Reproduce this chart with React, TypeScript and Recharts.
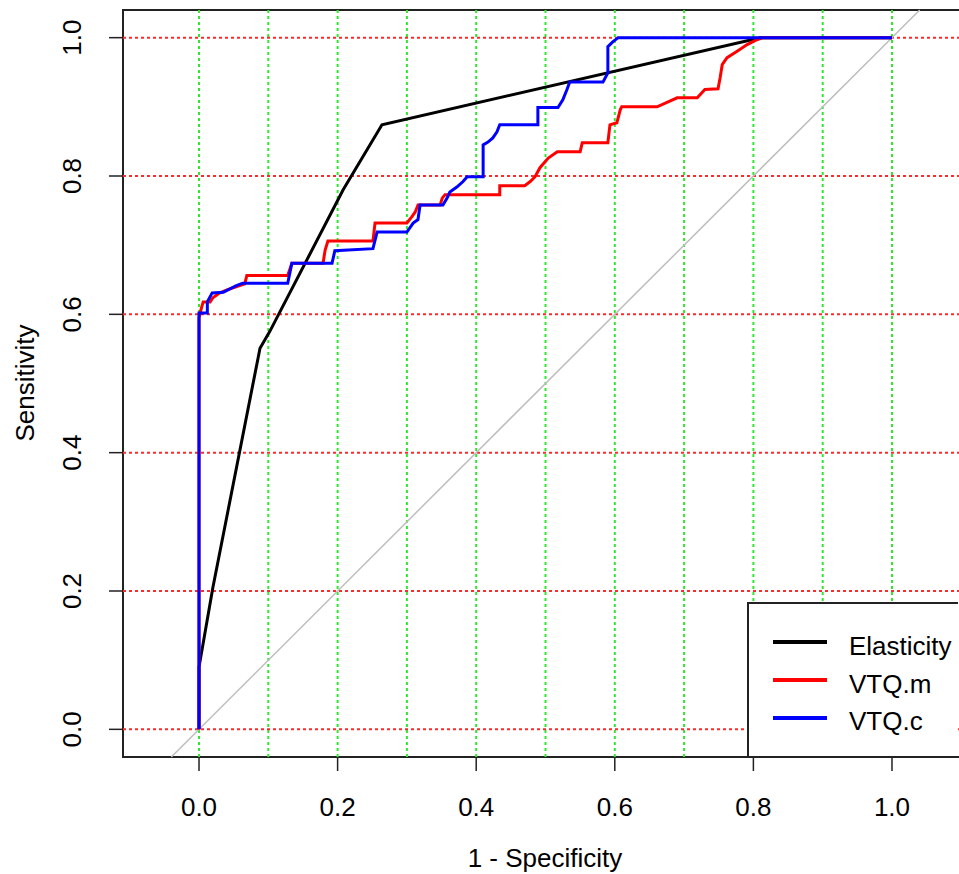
import {
  Line,
  LineChart,
  ReferenceArea,
  ReferenceLine,
  XAxis,
  YAxis,
} from "recharts";

const FONT = "'Liberation Sans', Arial, sans-serif";

const xTicks = [0, 0.2, 0.4, 0.6, 0.8, 1];
const yTicks = [0, 0.2, 0.4, 0.6, 0.8, 1];
const xGrid = [0, 0.1, 0.2, 0.3, 0.4, 0.5, 0.6, 0.7, 0.8, 0.9, 1];
const yGrid = [0, 0.2, 0.4, 0.6, 0.8, 1];
const xDomain = [-0.1097, 1.1097];
const yDomain = [-0.04, 1.04];
const chanceLine = [-0.04, 1.04];

const seriesNames = ["Elasticity", "VTQ.m", "VTQ.c"];
const seriesColors = ["#000000", "#ff0000", "#0000ff"];

// 1 - specificity / sensitivity
const elasticityFpr = [0, 0, 0.02, 0.088, 0.102, 0.208, 0.264, 0.81, 1];
const elasticitySens = [0, 0.09, 0.205, 0.551, 0.575, 0.78, 0.874, 1, 1];

const vtqmFpr = [
  0, 0, 0.004, 0.006, 0.016, 0.02, 0.03, 0.045, 0.066, 0.069, 0.128, 0.134,
  0.179, 0.182, 0.186, 0.251, 0.254, 0.3, 0.307, 0.312, 0.316, 0.348, 0.351,
  0.355, 0.434, 0.434, 0.47, 0.478, 0.485, 0.492, 0.504, 0.517, 0.55, 0.553,
  0.59, 0.593, 0.603, 0.608, 0.61, 0.661, 0.69, 0.719, 0.73, 0.749, 0.752,
  0.755, 0.762, 0.776, 0.791, 0.805, 0.814, 1,
];
const vtqmSens = [
  0, 0.595, 0.611, 0.618, 0.618, 0.624, 0.631, 0.637, 0.644, 0.656, 0.656,
  0.674, 0.674, 0.693, 0.706, 0.706, 0.732, 0.732, 0.741, 0.748, 0.758, 0.758,
  0.768, 0.773, 0.773, 0.786, 0.786, 0.792, 0.799, 0.812, 0.826, 0.835, 0.835,
  0.848, 0.848, 0.874, 0.877, 0.896, 0.9, 0.9, 0.913, 0.913, 0.925, 0.926,
  0.942, 0.961, 0.971, 0.98, 0.99, 0.997, 1, 1,
];

const vtqcFpr = [
  0, 0, 0.012, 0.012, 0.019, 0.035, 0.045, 0.053, 0.063, 0.128, 0.134, 0.192,
  0.196, 0.251, 0.257, 0.3, 0.309, 0.316, 0.319, 0.352, 0.358, 0.362, 0.372,
  0.381, 0.387, 0.41, 0.41, 0.417, 0.424, 0.43, 0.434, 0.489, 0.489, 0.518,
  0.525, 0.531, 0.535, 0.583, 0.59, 0.59, 0.597, 0.605, 1,
];
const vtqcSens = [
  0, 0.602, 0.602, 0.618, 0.631, 0.632, 0.637, 0.641, 0.645, 0.645, 0.674,
  0.674, 0.692, 0.695, 0.719, 0.719, 0.732, 0.737, 0.758, 0.758, 0.768, 0.777,
  0.784, 0.792, 0.799, 0.799, 0.845, 0.849, 0.855, 0.864, 0.874, 0.874, 0.899,
  0.899, 0.91, 0.925, 0.936, 0.936, 0.949, 0.987, 0.994, 1, 1,
];

const toPoints = (xs: number[], ys: number[]) =>
  xs.map((x, i) => ({ x, y: ys[i] }));

const seriesData = [
  toPoints(elasticityFpr, elasticitySens),
  toPoints(vtqmFpr, vtqmSens),
  toPoints(vtqcFpr, vtqcSens),
];

const XTick = (props: any) => (
  <text
    x={props.x}
    y={816}
    textAnchor="middle"
    fontSize={26}
    fontFamily={FONT}
    fill="#000"
  >
    {Number(props.payload.value).toFixed(1)}
  </text>
);

const YTick = (props: any) => (
  <text
    x={81}
    y={props.y}
    transform={`rotate(-90 81 ${props.y})`}
    textAnchor="middle"
    fontSize={26}
    fontFamily={FONT}
    fill="#000"
  >
    {Number(props.payload.value).toFixed(1)}
  </text>
);

function LegendBox() {
  return (
    <svg
      width={211}
      height={156}
      style={{ position: "absolute", left: 747, top: 602, pointerEvents: "none" }}
    >
      <rect x={1} y={1} width={260} height={154} fill="#fff" stroke="#222" strokeWidth={2} />
      {seriesNames.map((name, i) => (
        <g key={name}>
          <line
            x1={26}
            x2={80}
            y1={40 + i * 38}
            y2={40 + i * 38}
            stroke={seriesColors[i]}
            strokeWidth={4}
          />
          <text
            x={102}
            y={53 + i * 37.5}
            fontSize={26}
            fontFamily={FONT}
            fill="#000"
          >
            {name}
          </text>
        </g>
      ))}
    </svg>
  );
}

export default function App() {
  return (
    <div
      style={{
        position: "absolute",
        left: 0,
        top: 0,
        width: 959,
        height: 874,
        overflow: "hidden",
        background: "#fff",
      }}
    >
      <LineChart
        width={959}
        height={874}
        margin={{ top: 10, right: -9, bottom: 0, left: 0 }}
      >
        <XAxis
          type="number"
          dataKey="x"
          domain={xDomain}
          allowDataOverflow
          ticks={xTicks}
          axisLine={false}
          tickSize={14}
          tickLine={{ stroke: "#222", strokeWidth: 1.5 }}
          tick={XTick}
          height={117}
          label={{
            content: () => (
              <text x={545} y={867} textAnchor="middle" fontSize={26} fontFamily={FONT} fill="#000">
                1 - Specificity
              </text>
            ),
          }}
        />
        <YAxis
          type="number"
          dataKey="y"
          domain={yDomain}
          allowDataOverflow
          ticks={yTicks}
          axisLine={false}
          tickSize={14}
          tickLine={{ stroke: "#222", strokeWidth: 1.5 }}
          tick={YTick}
          width={123}
          label={{
            content: () => (
              <text
                x={34}
                y={383}
                transform="rotate(-90 34 383)"
                textAnchor="middle"
                fontSize={26}
                fontFamily={FONT}
                fill="#000"
              >
                Sensitivity
              </text>
            ),
          }}
        />
        {xGrid.map((v) => (
          <ReferenceLine
            key={`gx${v}`}
            x={v}
            stroke="#2ee82e"
            strokeWidth={2}
            strokeDasharray="3 3"
          />
        ))}
        {yGrid.map((v) => (
          <ReferenceLine
            key={`gy${v}`}
            y={v}
            stroke="#ff2a2a"
            strokeWidth={2}
            strokeDasharray="3 3"
          />
        ))}
        <ReferenceLine
          segment={[
            { x: chanceLine[0], y: chanceLine[0] },
            { x: chanceLine[1], y: chanceLine[1] },
          ]}
          stroke="#bebebe"
          strokeWidth={1.5}
        />
        {seriesData.map((data, i) => (
          <Line
            key={seriesNames[i]}
            data={data}
            dataKey="y"
            name={seriesNames[i]}
            type="linear"
            stroke={seriesColors[i]}
            strokeWidth={3}
            dot={false}
            activeDot={false}
            isAnimationActive={false}
          />
        ))}
        <ReferenceArea
          x1={xDomain[0]}
          x2={xDomain[1]}
          y1={yDomain[0]}
          y2={yDomain[1]}
          fill="none"
          fillOpacity={0}
          stroke="#222"
          strokeWidth={2}
        />
      </LineChart>
      <LegendBox />
    </div>
  );
}
